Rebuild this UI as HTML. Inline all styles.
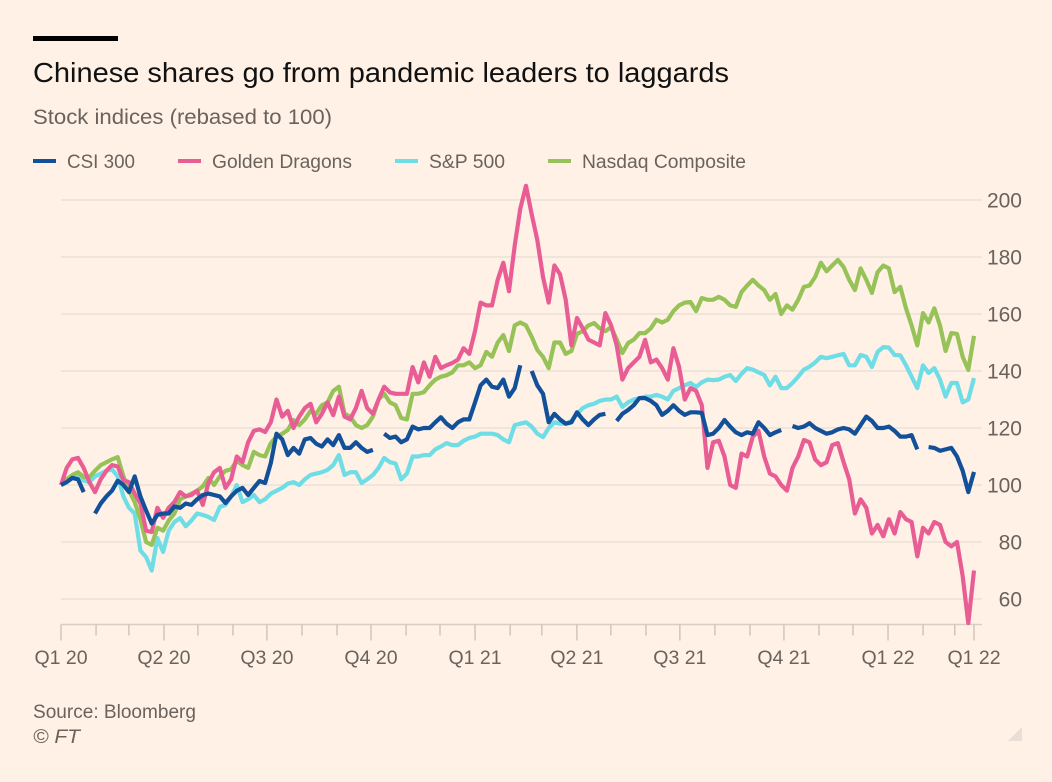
<!DOCTYPE html>
<html lang="en">
<head>
<meta charset="utf-8">
<title>Chinese shares go from pandemic leaders to laggards</title>
<style>
html,body{margin:0;padding:0;background:#fff1e5;}
svg{display:block;}
text{font-family:"Liberation Sans",sans-serif;}
</style>
</head>
<body>
<svg id="chart" xmlns="http://www.w3.org/2000/svg" width="1052" height="782" viewBox="0 0 1052 782">
  <rect x="0" y="0" width="1052" height="782" fill="#fff1e5"/>
  <rect x="33" y="36" width="85" height="5" fill="#000"/>
  <text x="33" y="82" font-size="28" fill="#111" textLength="696" lengthAdjust="spacingAndGlyphs">Chinese shares go from pandemic leaders to laggards</text>
  <text x="33" y="124" font-size="21" fill="#6a635d" textLength="299" lengthAdjust="spacingAndGlyphs">Stock indices (rebased to 100)</text>

  <g>
    <g>
      <rect x="33" y="159" width="23" height="4" fill="#12509a"/>
      <text x="67" y="168" font-size="19" fill="#6a635d" textLength="68" lengthAdjust="spacingAndGlyphs">CSI 300</text>
    </g>
    <g>
      <rect x="178" y="159" width="23" height="4" fill="#e95d95"/>
      <text x="212" y="168" font-size="19" fill="#6a635d" textLength="140" lengthAdjust="spacingAndGlyphs">Golden Dragons</text>
    </g>
    <g>
      <rect x="395" y="159" width="23" height="4" fill="#6fdde6"/>
      <text x="429" y="168" font-size="19" fill="#6a635d" textLength="76" lengthAdjust="spacingAndGlyphs">S&amp;P 500</text>
    </g>
    <g>
      <rect x="548" y="159" width="23" height="4" fill="#96c257"/>
      <text x="582" y="168" font-size="19" fill="#6a635d" textLength="164" lengthAdjust="spacingAndGlyphs">Nasdaq Composite</text>
    </g>
  </g>

  <g id="grid"></g>
  <g id="xaxis"></g>
  <defs>
    <clipPath id="plot-clip"><rect x="40" y="170" width="960" height="455"/></clipPath>
  </defs>
  <g id="series" clip-path="url(#plot-clip)"></g>

  <text x="33" y="718" font-size="19" fill="#6a635d" textLength="163" lengthAdjust="spacingAndGlyphs">Source: Bloomberg</text>
  <text x="33" y="743" font-size="19" font-style="italic" fill="#6a635d" textLength="47" lengthAdjust="spacingAndGlyphs">© FT</text>
  <polygon points="1008,741 1022,741 1022,727" fill="#eadfd6"/>
</svg>
<script>
// Sample spacing: one reading per grid step between day 0 (1 Jan 2020) and the last day.
const lastDay = 807;

const yTicks = [60, 80, 100, 120, 140, 160, 180, 200];

const monthTickDays = [0, 31, 60, 91, 121, 152, 182, 213, 244, 274, 305, 335, 366, 397, 425, 456, 486, 517, 547, 578, 609, 639, 670, 700, 731, 762, 790, 807];

const quarterTickDays = [0, 91, 182, 274, 366, 456, 547, 639, 731, 807];
const quarterTickLabels = ["Q1 20", "Q2 20", "Q3 20", "Q4 20", "Q1 21", "Q2 21", "Q3 21", "Q4 21", "Q1 22", "Q1 22"];

const sp500Values = [
  100,101,102.5,103,101.5,101,103,104,105,105.5,
  103,96,92,90,77,74.7,70,81.4,76.5,84,
  87,88.4,85.5,87.5,90,89.5,88.8,87.7,92.3,93,
  96,100,94,95,96.5,94,95,97,98,99,
  100.5,101,100,102,103.5,104,104.5,105.3,107,110.5,
  103.5,104.5,104.5,100.7,102,103.5,106,109.5,108,107.5,
  102,104,110,110,110.5,110.5,112.5,113.5,114.7,114,
  114,115.5,116.5,117,118,118,118,117.5,116,115,
  121,121.5,122,120.5,118,116.8,120,122,121.5,121.5,
  122.5,125,127,128,128.5,129.5,130,130,131,127.4,
  129,130,130.5,131,131,131.6,131,130,133,134,
  135,135.8,134.4,136,137,136.8,137,138,138.6,136.5,
  139,141,140.5,139.5,138.6,135,138,134,134,135.8,
  138,140.5,141.5,143,145,144.5,145,145.5,146,142,
  142,145.6,145,141.4,146.7,148.4,148.2,145.6,145.5,142,
  138,134,142,139.3,141,137,131,135.8,135.8,129,
  130,137.5
];

const nasdaqValues = [
  100,102,103.5,104.5,102.8,102.8,105,107,108,109,
  109.8,103,98,94,88,80,79,85,84,87.5,
  90,95,96,97,98,99.5,102.5,100,103,105,
  105.5,108.5,107,106,111.6,110.5,110,114.7,117,118,
  119.3,122.8,121,123,126,125,128,129,133,134.5,
  125,124,121,120,121,124,130,132,129,128,
  123.5,123,132,132,132.6,135,137,138,138.5,139.5,
  142,142,143,141,142,146.7,145,150,152.6,147,
  156,157,156,152,147.4,145,141,150,150,146,
  147,153,154,156,156.8,155,154,155.4,151,146.3,
  149.8,151,153.3,153.3,155,158,157,158,161,163,
  164,164.2,161,165.6,165,165,166,165,163,162.5,
  167.7,170,172,170,168.4,165,167,160,163,161.5,
  165,169.5,170,173,178,175,177,179,176.5,172,
  168.4,176,172,167.4,174.7,177,176,167.7,169.5,162,
  156,149,160.3,157,162,156,147,153.3,153,145,
  140.4,152.3
];

const goldenDragonsValues = [
  100,106,109,109.5,106,101,97.5,102,105,107,
  106.5,101.7,101,97,93.5,84,83.5,92,88.5,92,
  94,97.5,96,96.5,98,93,100.7,104.5,106,99,
  102,110,108,115,119,119.5,118.6,122,130,124,
  126,120,124,127,128.5,122,125,129,124.5,131,
  124,123,127,133,127,125,130,134.5,132.5,132,
  132,132,141.4,136,143,138,145,141,142,142.8,
  144,148,146,154,164,163,163,172,178,168,
  184,197,205,195,186,173,164,177,174,165,
  149,158.6,155,151,150,149,160.3,156,149,137,
  141,143,145,150.9,143,144,141,137,148,141.4,
  130,134,133,128,106,115,115.5,110,100,99,
  111,110,117,119,110,104,103,100,98,106,
  110,115.8,115,109,107,108,114,114.7,108,102,
  90,95,92,83,86,82,88,83,90.5,88,
  87,75,85,83,87,86,80,78.5,80,68,
  51.5,70
];

const csi300Values = [
  100,101,102.5,102,97.5,null,90,93.5,96,98,
  101.5,100,97.5,103,96,91,86.5,89.5,90,90,
  92.5,92,93.5,93,95,96.5,97,96.5,96,93.7,
  96,98,99,96.5,99,101.4,100.7,107.7,118,116,
  110.5,113,111,116,116.5,114.5,113.5,116,114,117.5,
  113,113,115,113,111.6,112.3,null,118,116.5,117,
  115,116,120.5,119.5,120,120,122,123.8,121.5,120,
  122,123,123,129,135,137,134.5,134,137,131,
  134,142,null,140,135,132,122,125,123,121.5,
  122,125.5,123,121,123,124.6,125,null,122.5,125,
  126.3,128,130.5,130.5,129.5,128,124.6,126,128,126,
  124.6,125.5,125.5,125.3,117.5,118,120,122.8,120.5,118.5,
  117.5,118.5,118,122,120,117.5,118.5,119.3,null,120.7,
  120,120.5,121.7,120,119,118,118.5,119.5,120,119.5,
  118,121,124,122.5,120,120,120.5,119,117,117,
  117.5,112.5,null,113.3,113,112,112.5,113,110,105,
  97.5,104.6
];

const plot = { left: 61, right: 974, zeroY: 485, pxPerUnit: 2.85, axisY: 624.5, gridRight: 982 };

function xScale(day) {
  return plot.left + (plot.right - plot.left) * day / lastDay;
}

function yScale(value) {
  return plot.zeroY - (value - 100) * plot.pxPerUnit;
}

const SVG_NS = 'http://www.w3.org/2000/svg';
const gridLayer = document.getElementById('grid');
const axisLayer = document.getElementById('xaxis');
const seriesLayer = document.getElementById('series');

yTicks.forEach(function (tick) {
  const line = document.createElementNS(SVG_NS, 'line');
  
  
  line.setAttribute('x1', plot.left);
  line.setAttribute('x2', plot.gridRight);
  line.setAttribute('y1', yScale(tick));
  line.setAttribute('y2', yScale(tick));
  line.setAttribute('stroke', '#ece1d8');
  line.setAttribute('stroke-width', '1.5');
  gridLayer.appendChild(line);

  const label = document.createElementNS(SVG_NS, 'text');
  
  
  label.setAttribute('x', 1022);
  label.setAttribute('y', yScale(tick) + 7.5);
  label.setAttribute('text-anchor', 'end');
  label.setAttribute('font-size', '21');
  label.setAttribute('fill', '#6a635d');
  label.textContent = tick;
  gridLayer.appendChild(label);
});

const baseline = document.createElementNS(SVG_NS, 'line');


baseline.setAttribute('x1', plot.left);
baseline.setAttribute('x2', plot.gridRight);
baseline.setAttribute('y1', plot.axisY);
baseline.setAttribute('y2', plot.axisY);
baseline.setAttribute('stroke', '#d9cec5');
baseline.setAttribute('stroke-width', '1.5');
axisLayer.appendChild(baseline);

monthTickDays.forEach(function (day) {
  const isQuarter = quarterTickDays.indexOf(day) >= 0;
  const tick = document.createElementNS(SVG_NS, 'line');
  
  
  tick.setAttribute('x1', xScale(day));
  tick.setAttribute('x2', xScale(day));
  tick.setAttribute('y1', plot.axisY);
  tick.setAttribute('y2', plot.axisY + (isQuarter ? 16 : 11));
  tick.setAttribute('stroke', '#d0c6bd');
  tick.setAttribute('stroke-width', '1.5');
  axisLayer.appendChild(tick);
});

quarterTickDays.forEach(function (day, i) {
  const label = document.createElementNS(SVG_NS, 'text');
  
  
  label.setAttribute('x', xScale(day));
  label.setAttribute('y', 664);
  label.setAttribute('text-anchor', 'middle');
  label.setAttribute('font-size', '19.5');
  label.setAttribute('fill', '#6a635d');
  label.textContent = quarterTickLabels[i];
  axisLayer.appendChild(label);
});

function linePath(values) {
  const step = lastDay / (values.length - 1);
  let d = '';
  let pen = false;
  values.forEach(function (v, i) {
    if (v === null) {
      pen = false;
      return;
    }
    d += (pen ? 'L' : 'M') + xScale(i * step).toFixed(1) + ' ' + yScale(v).toFixed(1);
    pen = true;
  });
  return d;
}

function drawSeries(values, colour) {
  const path = document.createElementNS(SVG_NS, 'path');
  path.setAttribute('d', linePath(values));
  path.setAttribute('fill', 'none');
  path.setAttribute('stroke', colour);
  path.setAttribute('stroke-width', '4.2');
  path.setAttribute('stroke-linejoin', 'round');
  path.setAttribute('stroke-linecap', 'butt');
  seriesLayer.appendChild(path);
  return path;
}

const sp500Line = drawSeries(sp500Values, '#6fdde6');



const nasdaqLine = drawSeries(nasdaqValues, '#96c257');



const goldenLine = drawSeries(goldenDragonsValues, '#e95d95');



const csiLine = drawSeries(csi300Values, '#12509a');


</script>
</body>
</html>
